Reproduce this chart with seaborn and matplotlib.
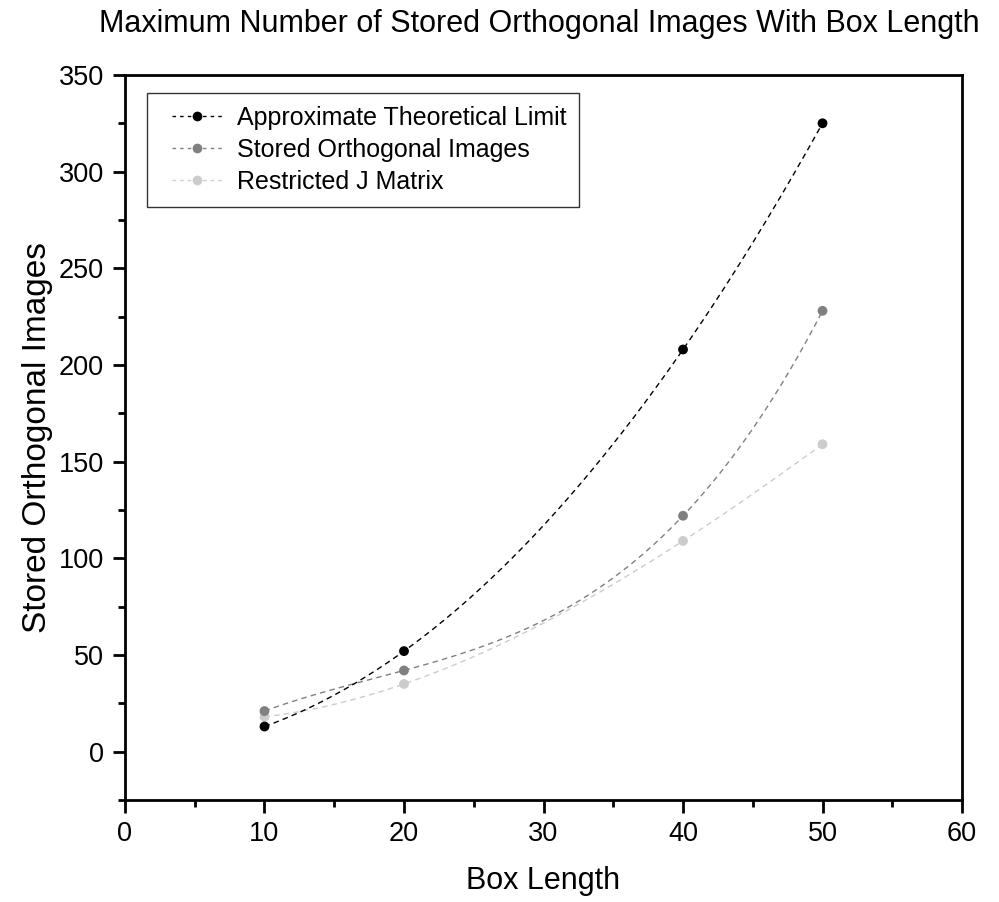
import numpy as np
import pandas as pd
import matplotlib
matplotlib.use("Agg")
import matplotlib.pyplot as plt
from matplotlib.lines import Line2D
from matplotlib.legend_handler import HandlerLine2D
from matplotlib.ticker import MultipleLocator
import seaborn as sns

box_length = [10, 20, 40, 50]
theoretical_limit = [13, 52, 208, 325]
stored_images = [21, 42, 122, 228]
restricted_j = [18, 35, 109, 159]
series_names = ["Approximate Theoretical Limit", "Stored Orthogonal Images", "Restricted J Matrix"]
series_values = [theoretical_limit, stored_images, restricted_j]
colors = ["#000000", "#808080", "#cccccc"]

sns.set_theme(style="white")
plt.rcParams['font.family'] = ['Liberation Sans', 'DejaVu Sans']
plt.rcParams['text.color'] = 'black'
plt.rcParams['axes.labelcolor'] = 'black'
plt.rcParams['xtick.color'] = 'black'
plt.rcParams['ytick.color'] = 'black'

fig = plt.figure(figsize=(9.99, 9.02), dpi=100)
ax = fig.add_axes([0.1251, 0.1131, 0.9630 - 0.1251, 0.9169 - 0.1131])

rows = []
for name, vals in zip(series_names, series_values):
    for x, y in zip(box_length, vals):
        rows.append({"x": x, "y": y, "series": name})
pts = pd.DataFrame(rows)

# smooth connecting curve (cubic through the 4 points)
curve_rows = []
xs = np.linspace(min(box_length), max(box_length), 200)
for name, vals in zip(series_names, series_values):
    coef = np.polyfit(box_length, vals, 3)
    for x, y in zip(xs, np.polyval(coef, xs)):
        curve_rows.append({"x": x, "y": y, "series": name})
curves = pd.DataFrame(curve_rows)

palette = dict(zip(series_names, colors))
for name in series_names[::-1]:
    sub = curves[curves.series == name]
    sns.lineplot(data=sub, x="x", y="y", color=palette[name], lw=1.0,
                 ax=ax, legend=False, linestyle=(0, (4, 3)))
for name in series_names[::-1]:
    sub = pts[pts.series == name]
    sns.scatterplot(data=sub, x="x", y="y", color=palette[name], s=50,
                    edgecolor="none", ax=ax, legend=False, zorder=3)

ax.set_xlim(0, 60)
ax.set_ylim(-25, 350)
ax.xaxis.set_major_locator(MultipleLocator(10))
ax.xaxis.set_minor_locator(MultipleLocator(5))
ax.yaxis.set_major_locator(MultipleLocator(50))
ax.yaxis.set_minor_locator(MultipleLocator(25))
ax.tick_params(which="major", direction="out", length=9, width=2, labelsize=19.5,
               bottom=True, left=True, top=False, right=False, colors="black", pad=6)
ax.tick_params(which="minor", direction="out", length=5, width=2,
               bottom=True, left=True, top=False, right=False)
for sp in ax.spines.values():
    sp.set_color("black")
    sp.set_linewidth(2)

ax.set_xlabel("Box Length", fontsize=22, labelpad=14)
ax.set_ylabel("Stored Orthogonal Images", fontsize=24, labelpad=4)
fig.suptitle("Maximum Number of Stored Orthogonal Images With Box Length",
             fontsize=22, x=0.54, y=0.99, va="top",
             fontfamily=['Liberation Sans Narrow', 'Liberation Sans', 'DejaVu Sans'])


class OffsetHandler(HandlerLine2D):
    def get_xdata(self, legend, xdescent, ydescent, width, height, fontsize):
        x0 = -xdescent
        xdata = np.array([x0 + 0.2 * width, x0 + width])
        xmark = np.array([x0 + 0.65 * width])
        return xdata, xmark


handles = [Line2D([0], [0], color=c, lw=1.0, linestyle=(0, (2.5, 3)), marker="o",
                  markersize=7, markeredgecolor="none") for c in colors]
leg = ax.legend(handles, series_names, loc="upper left", fontsize=18,
                frameon=True, fancybox=False, edgecolor="black",
                bbox_to_anchor=(0.026, 0.975), borderaxespad=0,
                handlelength=2.5, labelspacing=0.33, handletextpad=0.6,
                borderpad=0.5,
                handler_map={Line2D: OffsetHandler()})
leg.get_frame().set_linewidth(1.0)

fig.savefig("out.png", dpi=100, facecolor="white")
